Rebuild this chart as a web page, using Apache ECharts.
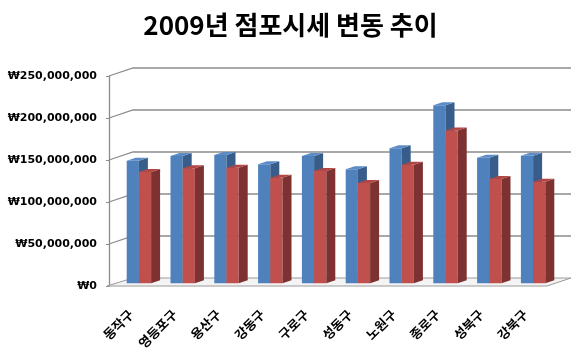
<!DOCTYPE html>
<html>
<head>
<meta charset="utf-8">
<script src="https://cdn.jsdelivr.net/npm/echarts@6/dist/echarts.min.js"></script>
<style>html,body{margin:0;padding:0;background:#fff}#c{width:581px;height:356px}</style>
</head>
<body>
<div id="c"></div>
<script>
var categories = ['동작구','영등포구','용산구','강동구','구로구','성동구','노원구','종로구','성북구','강북구'];
var series1 = [146000000,151500000,152700000,141700000,151500000,135700000,160700000,211900000,149500000,151900000];
var series2 = [132500000,137000000,137600000,125700000,133700000,119400000,141200000,182000000,124200000,121000000];
var yTicks = [0,50000000,100000000,150000000,200000000,250000000];

var DX = 24, DY = -8;          // wall depth
var OX = 8, OY = -2.7;         // bar plane offset
var BW = 12.2, BDX = 9, BDY = -3; // bar width & depth

function barRender(idx, cols) {
  return function (params, api) {
    var c = api.coord([api.value(0), api.value(1)]);
    var b = api.coord([api.value(0), 0]);
    var left = c[0] + OX + (idx === 0 ? -BW : 0);
    var top = c[1] + OY, bottom = b[1] + OY;
    return {
      type: 'group',
      children: [
        {type:'rect', shape:{x:left, y:top, width:BW, height:bottom-top}, style:{fill:cols[0]}},
        {type:'polygon', shape:{points:[[left+BW,top],[left+BW+BDX,top+BDY],[left+BW+BDX,bottom+BDY],[left+BW,bottom]]}, style:{fill:cols[1]}},
        {type:'polygon', shape:{points:[[left,top],[left+BDX,top+BDY],[left+BW+BDX,top+BDY],[left+BW,top]]}, style:{fill:cols[2]}}
      ]
    };
  };
}

function frameRender(params, api) {
  var cs = params.coordSys;
  var y = api.coord([0, api.value(1)])[1];
  var gx = cs.x, gw = cs.width;
  var children = [];
  if (api.value(1) === 0) {
    children.push({type:'polygon', shape:{points:[[gx-2,y],[gx+gw,y],[gx+gw+DX,y+DY],[gx+DX,y+DY]]},
      style:{fill:'#f4f4f4', stroke:'#9a9a9a', lineWidth:1}});
  } else {
    children.push({type:'polyline', shape:{points:[[gx,y],[gx+DX,y+DY],[gx+gw+DX,y+DY]]},
      style:{fill:null, stroke:'#8c8c8c', lineWidth:1.3}});
  }
  return {type:'group', children:children};
}

var chart = echarts.init(document.getElementById('c'), null, {renderer:'canvas'});
chart.setOption({
  animation: false,
  backgroundColor: '#ffffff',
  title: {
    text: '2009년 점포시세 변동 추이',
    left: 'center', top: 7,
    textStyle: {fontFamily:'Noto Sans CJK KR', fontWeight:'bold', fontSize:26, color:'#000'}
  },
  grid: {left:109, right:34, top:76, bottom:70},
  xAxis: {
    type:'category', data:categories,
    axisLine:{show:false}, axisTick:{show:false}, splitLine:{show:false},
    axisLabel:{rotate:45, margin:26, interval:0, fontFamily:'Noto Sans CJK KR', fontWeight:'bold', fontSize:13, color:'#000'}
  },
  yAxis: {
    type:'value', min:0, max:250000000, interval:50000000,
    splitLine:{show:false},
    axisLine:{show:true, lineStyle:{color:'#8c8c8c', width:1.3}},
    axisTick:{show:true, length:3, lineStyle:{color:'#8c8c8c'}},
    axisLabel:{margin:12, fontFamily:'DejaVu Sans', fontWeight:'bold', fontSize:11, color:'#000',
      formatter:function(v){ return '₩' + v.toLocaleString('en-US'); }}
  },
  series: [
    {type:'custom', name:'frame', renderItem:frameRender, z:1, silent:true,
     data: yTicks.map(function(v){ return [0, v]; }), encode:{x:0, y:1}},
    {type:'custom', name:'계열1', renderItem:barRender(0, ['#4f81bd','#385d8a','#5b8cc6']), z:2,
     data: series1.map(function(v,i){ return [i, v]; }), encode:{x:0, y:1}},
    {type:'custom', name:'계열2', renderItem:barRender(1, ['#c0504d','#7d3231','#b04744']), z:3,
     data: series2.map(function(v,i){ return [i, v]; }), encode:{x:0, y:1}}
  ]
});
</script>
</body>
</html>
